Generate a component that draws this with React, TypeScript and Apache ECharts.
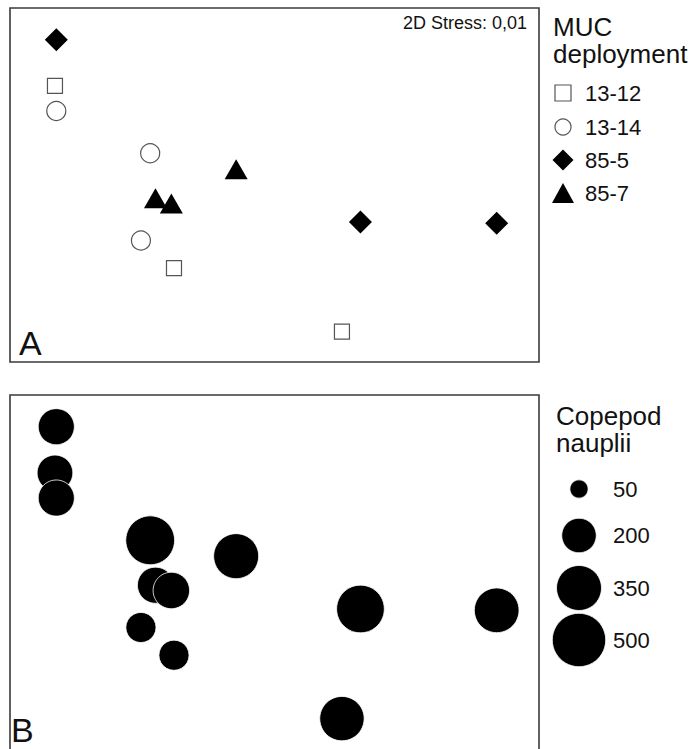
import React, { useEffect, useRef } from "react";
import * as echarts from "echarts";

// MUC deployments (groups) and their nMDS ordination coordinates [dim1, dim2]
const groups = ["13-12", "13-14", "85-5", "85-7"];
const mds1312 = [[-1.66, 0.75], [-0.76, -0.63], [0.51, -1.11]];
const mds1314 = [[-1.65, 0.56], [-0.94, 0.24], [-1.01, -0.42]];
const mds855 = [[-1.65, 1.1], [0.65, -0.28], [1.68, -0.29]];
const mds857 = [[-0.29, 0.12], [-0.9, -0.1], [-0.78, -0.14]];

// Copepod nauplii abundance per sample (same order as the coordinates)
const nauplii1312 = [215, 150, 340];
const nauplii1314 = [220, 415, 150];
const nauplii855 = [220, 395, 345];
const nauplii857 = [350, 220, 225];

// Bubble legend values
const sizeLegendValues = [50, 200, 350, 500];

const stressLabel = "2D Stress: 0,01";
const legendTitleA = "MUC\ndeployment";
const legendTitleB = "Copepod\nnauplii";

// Axis extents of the ordination space
const X_MIN = -2;
const X_MAX = 2;
const Y_MIN = -1.34;
const Y_MAX = 1.34;

const FONT = "'Liberation Sans', Arial, Helvetica, sans-serif";
const INK = "#111";

// Marker diameter for a given abundance
const bubbleSize = (v: number) => 2.3 * Math.sqrt(v) + 2;

const coordsByGroup = [mds1312, mds1314, mds855, mds857];
const naupliiByGroup = [nauplii1312, nauplii1314, nauplii855, nauplii857];

type SymbolStyle = {
  symbol: string;
  size: number | number[];
  fill: string;
  stroke: string;
  lineWidth: number;
  legendSize: number[];
};

const symbolStyles: SymbolStyle[] = [
  { symbol: "rect", size: 15, fill: "#fff", stroke: "#555", lineWidth: 1.2, legendSize: [16, 16] },
  { symbol: "circle", size: 19, fill: "#fff", stroke: "#555", lineWidth: 1.2, legendSize: [16, 16] },
  { symbol: "diamond", size: [23, 23], fill: "#000", stroke: "#000", lineWidth: 0, legendSize: [21, 21] },
  { symbol: "triangle", size: [23, 20], fill: "#000", stroke: "#000", lineWidth: 0, legendSize: [22, 20] },
];

function legendMarker(style: SymbolStyle, cx: number, cy: number) {
  const [w, h] = style.legendSize;
  const common = {
    style: { fill: style.fill, stroke: style.stroke, lineWidth: style.lineWidth },
    silent: true,
  };
  switch (style.symbol) {
    case "rect":
      return { type: "rect", shape: { x: cx - w / 2, y: cy - h / 2, width: w, height: h }, ...common };
    case "circle":
      return { type: "circle", shape: { cx, cy, r: w / 2 }, ...common };
    case "diamond":
      return {
        type: "polygon",
        shape: { points: [[cx, cy - h / 2], [cx + w / 2, cy], [cx, cy + h / 2], [cx - w / 2, cy]] },
        ...common,
      };
    default:
      return {
        type: "polygon",
        shape: { points: [[cx, cy - h / 2], [cx + w / 2, cy + h / 2], [cx - w / 2, cy + h / 2]] },
        ...common,
      };
  }
}

function text(t: string, x: number, y: number, fontSize: number, align = "left", lineHeight?: number) {
  return {
    type: "text",
    silent: true,
    style: {
      text: t,
      x,
      y,
      fill: INK,
      fontSize,
      fontFamily: FONT,
      lineHeight: lineHeight ?? fontSize,
      textAlign: align,
      textVerticalAlign: "middle",
    },
  };
}

const CHART_H = 770; // panel B runs past the bottom edge of the visible page

export default function App() {
  const ref = useRef<HTMLDivElement>(null);

  useEffect(() => {
    if (!ref.current) return;
    const chart = echarts.init(ref.current, null, { renderer: "svg" });

    const plotH = 354;
    const bH = 362;
    const yBMin = Y_MAX - ((Y_MAX - Y_MIN) * bH) / plotH;

    const gridBase = {
      left: 10,
      width: 529,
      show: true,
      borderColor: "#3a3a3a",
      borderWidth: 1.6,
      backgroundColor: "transparent",
      outerBoundsMode: "none",
      containLabel: false,
    };

    const axisX = (gridIndex: number) => ({
      gridIndex,
      type: "value",
      min: X_MIN,
      max: X_MAX,
      show: false,
    });

    // Panel A: ordination, one series per deployment
    const seriesA = groups.map((name, gi) => {
      const st = symbolStyles[gi];
      return {
        name,
        type: "scatter",
        xAxisIndex: 0,
        yAxisIndex: 0,
        symbol: st.symbol,
        symbolSize: st.size,
        itemStyle: {
          color: st.fill,
          borderColor: st.stroke,
          borderWidth: st.lineWidth,
          opacity: 1,
        },
        data: coordsByGroup[gi],
        z: 3,
      };
    });

    // Panel B: same ordination, bubbles sized by nauplii abundance
    const drawOrder = [2, 0, 1, 3];
    const bubbleData: number[][] = [];
    drawOrder.forEach((gi) => {
      coordsByGroup[gi].forEach((c, i) => {
        bubbleData.push([c[0], c[1], naupliiByGroup[gi][i]]);
      });
    });

    const seriesB = {
      name: "Copepod nauplii",
      type: "scatter",
      xAxisIndex: 1,
      yAxisIndex: 1,
      symbol: "circle",
      symbolSize: (val: number[]) => bubbleSize(val[2]),
      itemStyle: { color: "#000", borderColor: "#fff", borderWidth: 0.8, opacity: 1 },
      data: bubbleData,
      z: 3,
    };

    // Legends drawn as graphics
    const legendRowsA = [93, 127, 160, 193];
    const legendA: any[] = [text(legendTitleA, 553, 40.5, 26, "left", 27)];
    groups.forEach((g, gi) => {
      legendA.push(legendMarker(symbolStyles[gi], 563, legendRowsA[gi]));
      legendA.push(text(g, 585, legendRowsA[gi], 22));
    });

    const legendRowsB = [489, 535.5, 588, 640];
    const legendB: any[] = [text(legendTitleB, 556, 429.5, 26, "left", 27)];
    sizeLegendValues.forEach((v, i) => {
      legendB.push({
        type: "circle",
        silent: true,
        shape: { cx: 579, cy: legendRowsB[i], r: bubbleSize(v) / 2 },
        style: { fill: "#000", stroke: "#fff", lineWidth: 0.8 },
      });
      legendB.push(text(String(v), 613, legendRowsB[i], 22));
    });

    chart.setOption({
      animation: false,
      backgroundColor: "#fff",
      grid: [
        { ...gridBase, top: 8, height: plotH },
        { ...gridBase, top: 395, height: bH },
      ],
      xAxis: [axisX(0), axisX(1)],
      yAxis: [
        { gridIndex: 0, type: "value", min: Y_MIN, max: Y_MAX, show: false },
        { gridIndex: 1, type: "value", min: yBMin, max: Y_MAX, show: false },
      ],
      series: [...seriesA, seriesB],
      graphic: [
        text(stressLabel, 527, 23, 18, "right"),
        text("A", 19, 343, 34),
        text("B", 11, 730, 34),
        ...legendA,
        ...legendB,
      ],
    });

    return () => chart.dispose();
  }, []);

  return (
    <div
      style={{
        position: "absolute",
        left: 0,
        top: 0,
        width: 696,
        height: 749,
        overflow: "hidden",
        background: "#fff",
      }}
    >
      <div ref={ref} style={{ width: 696, height: CHART_H }} />
    </div>
  );
}
